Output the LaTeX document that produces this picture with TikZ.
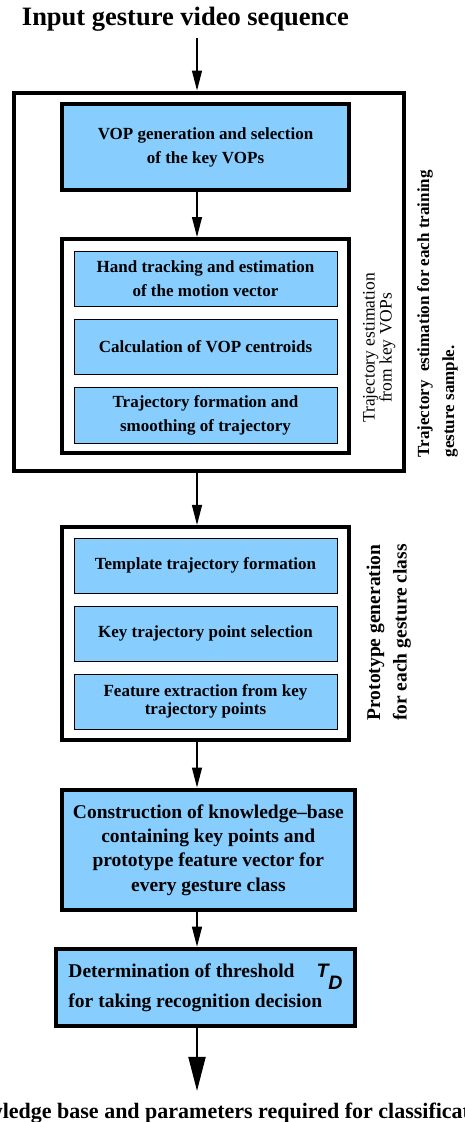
\documentclass[tikz,border=0pt]{standalone}
\usepackage{fontspec}
\setmainfont{Liberation Serif}
\newfontfamily\tdfont{Liberation Sans}
\usetikzlibrary{arrows.meta, positioning}
\definecolor{figblue}{RGB}{135,206,255}
\newcommand\fsz[2]{\fontsize{#1}{#2}\selectfont}

\begin{document}
\begin{tikzpicture}[x=1pt, y=-1pt, ->, >={Triangle[length=20pt, width=10pt]}, line width=1.2pt,
	bigbox/.style={draw, fill=figblue, line width=4pt, inner sep=0pt, align=center, font=\bfseries\fsz{17}{24}},
	smallbox/.style={draw, fill=figblue, line width=1pt, inner sep=0pt, minimum width=263pt, minimum height=55pt, align=center, font=\bfseries\fsz{17}{24}},
	groupbox/.style={draw, line width=4pt, inner sep=0pt},
	sidetext/.style={rotate=90, inner sep=0pt, align=center}]
		\useasboundingbox (0,0) rectangle (464,1122);
		\coordinate (axis) at (197,0);
		\node[inner sep=7pt, anchor=base, font=\bfseries\fsz{26.5}{30}] (in) at (185.5,25) {Input gesture video sequence};
		% trajectory estimation
		\node[groupbox, minimum width=390.5pt, minimum height=378pt] (fr1) at (208.75,281.5) {};
		\node[bigbox, minimum width=287pt, minimum height=86pt] (vop) at (205.5,147) {VOP generation and selection\\of the key VOPs};
		\node[groupbox, minimum width=287pt, minimum height=213.5pt] (fr2) at (205.5,345.75) {};
		\node[smallbox]	(trk1) at (205.5,278.5) {Hand tracking and estimation\\of the motion vector};
		\node[smallbox]	(trk2) [below = 12pt of trk1] {Calculation of VOP centroids};
		\node[smallbox, minimum height=56pt] (trk3) [below = 12pt of trk2] {Trajectory formation and\\smoothing of trajectory};
		\node[sidetext, font=\fsz{17.5}{17}] (trklbl) at (379.3,348) {Trajectory estimation\\from key VOPs};
		\node[sidetext, anchor=north west, align=left, font=\bfseries\fsz{17}{25}] (fr1lbl) at (416.5,458) {Trajectory\ \ estimation for each training\\gesture sample.};
		% prototype generation
		\node[groupbox, minimum width=287pt, minimum height=212.7pt] (fr3) at (205.5,633.3) {};
		\node[smallbox]	(pro1) at (205.5,565.5) {Template trajectory formation};
		\node[smallbox]	(pro2) [below = 12pt of pro1] {Key trajectory point selection};
		\node[smallbox, font=\bfseries\fsz{17}{18}] (pro3) [below = 12pt of pro2] {Feature extraction from key\\trajectory points};
		\node[sidetext, font=\bfseries\fsz{19.5}{26.5}] (fr3lbl) at (388.7,632.5) {Prototype generation\\for each gesture class};
		% knowledge base and threshold
		\node[bigbox, minimum width=292.7pt, minimum height=120.8pt, font=\bfseries\fsz{19.5}{24.3}] (kb) at (208.35,849.9) {Construction of knowledge--base\\containing key points and\\prototype feature vector for\\every gesture class};
		\node[bigbox, align=left, minimum width=298.4pt, minimum height=77.6pt, font=\bfseries\fsz{19.5}{30}] (thr) at (205.5,987.5) {Determination of threshold\hspace{22pt}{\tdfont\itshape T\raisebox{-12pt}{D}}\\for taking recognition decision};
		\node[inner sep=11pt, anchor=base, font=\bfseries\fsz{22}{26}] (out) at (223,1118) {Knowledge base and parameters required for classification};
		\path
		(in.south -| axis)	edge	(fr1.north -| axis)
		(vop.south -| axis)	edge	(fr2.north -| axis)
		(fr1.south -| axis)	edge	(fr3.north -| axis)
		(fr3.south -| axis)	edge	(kb.north -| axis)
		(kb.south -| axis)	edge	(thr.north -| axis)
		(thr.south -| axis)	edge[line width=2pt, -{Triangle[length=34pt, width=17pt]}]	(out.north -| axis);
\end{tikzpicture}
\end{document}
